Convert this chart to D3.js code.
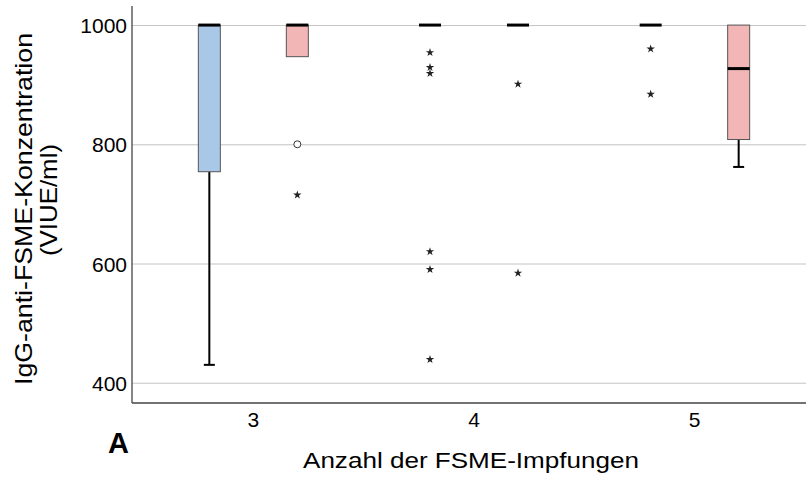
<!DOCTYPE html>
<html>
<head>
<meta charset="utf-8">
<script src="https://cdn.jsdelivr.net/npm/d3@7"></script>
<style>
  body { margin: 0; background: #fff; }
  svg text { font-family: "Liberation Sans", Arial, sans-serif; fill: #000; }
</style>
</head>
<body>
<div class="chart"></div>
<script>
// categories on the x axis
var categories = ["3", "4", "5"];
var groups = ["Gruppe 1", "Gruppe 2"];
var yTicks = [400, 600, 800, 1000];

// box statistics per group, one entry per category
var group1Min    = [430, 1000, 1000];
var group1Q1     = [754, 1000, 1000];
var group1Median = [1000, 1000, 1000];
var group1Q3     = [1000, 1000, 1000];
var group1Max    = [1000, 1000, 1000];

var group2Min    = [947, 1000, 762];
var group2Q1     = [947, 1000, 808];
var group2Median = [1000, 1000, 927];
var group2Q3     = [1000, 1000, 1000];
var group2Max    = [1000, 1000, 1000];

// outliers (circles) and extreme values (stars)
var group1Outliers = [[], [], []];
var group1Extremes = [[], [954, 929, 919, 620, 590, 439], [960, 884]];
var group2Outliers = [[800], [], []];
var group2Extremes = [[715], [901, 584], []];

var colors = ["#a9c7e7", "#f2b6b6"];

var svgWidth = 806;
var svgHeight = 481;
var plot = { left: 132, right: 806, top: 6, bottom: 403 };

var svg = d3.select(".chart")
  .append("svg")
  .attr("width", svgWidth)
  .attr("height", svgHeight);

var x = d3.scaleBand()
  .domain(categories)
  .range([143, 805]);

var xGroup = d3.scalePoint()
  .domain(groups)
  .range([-44, 44]);

var y = d3.scaleLinear()
  .domain([366, 1032])
  .range([plot.bottom, plot.top]);

// gridlines
svg.append("g")
  .attr("transform", `translate(${plot.left}, 0)`)
  .call(d3.axisLeft(y).tickValues(yTicks).tickSize(-(plot.right - plot.left)).tickFormat(""))
  .call(g => g.select(".domain").remove())
  .selectAll("line")
  .attr("stroke", "#c4c4c4")
  .attr("stroke-width", 1);

// build the per-group table
var series = [
  { name: groups[0], color: colors[0], min: group1Min, q1: group1Q1, median: group1Median, q3: group1Q3, max: group1Max, outliers: group1Outliers, extremes: group1Extremes },
  { name: groups[1], color: colors[1], min: group2Min, q1: group2Q1, median: group2Median, q3: group2Q3, max: group2Max, outliers: group2Outliers, extremes: group2Extremes }
];

var boxWidth = 22;
var capWidth = 11;

series.forEach(function(s) {
  categories.forEach(function(c, i) {
    var cx = x(c) + x.bandwidth() / 2 + xGroup(s.name);
    var g = svg.append("g");

    // lower whisker
    if (s.min[i] < s.q1[i]) {
      g.append("line")
        .attr("x1", cx).attr("x2", cx)
        .attr("y1", y(s.q1[i])).attr("y2", y(s.min[i]))
        .attr("stroke", "#000").attr("stroke-width", 2);
      g.append("line")
        .attr("x1", cx - capWidth / 2).attr("x2", cx + capWidth / 2)
        .attr("y1", y(s.min[i])).attr("y2", y(s.min[i]))
        .attr("stroke", "#000").attr("stroke-width", 2);
    }
    // upper whisker
    if (s.max[i] > s.q3[i]) {
      g.append("line")
        .attr("x1", cx).attr("x2", cx)
        .attr("y1", y(s.q3[i])).attr("y2", y(s.max[i]))
        .attr("stroke", "#000").attr("stroke-width", 2);
      g.append("line")
        .attr("x1", cx - capWidth / 2).attr("x2", cx + capWidth / 2)
        .attr("y1", y(s.max[i])).attr("y2", y(s.max[i]))
        .attr("stroke", "#000").attr("stroke-width", 2);
    }

    // box
    if (s.q3[i] > s.q1[i]) {
      g.append("rect")
        .attr("x", cx - boxWidth / 2)
        .attr("y", y(s.q3[i]))
        .attr("width", boxWidth)
        .attr("height", y(s.q1[i]) - y(s.q3[i]))
        .attr("fill", s.color)
        .attr("stroke", "#555")
        .attr("stroke-width", 1);
    }

    // median
    g.append("line")
      .attr("x1", cx - boxWidth / 2).attr("x2", cx + boxWidth / 2)
      .attr("y1", y(s.median[i])).attr("y2", y(s.median[i]))
      .attr("stroke", "#000").attr("stroke-width", 3);

    // outliers
    g.selectAll(".outlier")
      .data(s.outliers[i])
      .enter()
      .append("circle")
      .attr("cx", cx)
      .attr("cy", d => y(d))
      .attr("r", 3.5)
      .attr("fill", "#fff")
      .attr("stroke", "#333")
      .attr("stroke-width", 1);

    // extreme values
    g.selectAll(".extreme")
      .data(s.extremes[i])
      .enter()
      .append("path")
      .attr("d", d3.symbol().type(d3.symbolStar).size(22))
      .attr("transform", d => `translate(${cx}, ${y(d)})`)
      .attr("fill", "#222");
  });
});

// axes
var leftAxis = svg.append("g")
  .attr("transform", `translate(${plot.left}, 0)`)
  .call(d3.axisLeft(y).tickValues(yTicks).tickSize(0).tickPadding(5).tickFormat(d3.format("d")));
leftAxis.select(".domain").attr("d", `M0,${plot.top}V${plot.bottom}`).attr("stroke", "#444").attr("stroke-width", 1.3);
leftAxis.selectAll("text").style("font-size", "21px").attr("dy", "0.36em");

var bottomAxis = svg.append("g")
  .attr("transform", `translate(0, ${plot.bottom})`)
  .call(d3.axisBottom(x).tickSize(0).tickPadding(9));
bottomAxis.select(".domain").attr("d", `M${plot.left},0H${plot.right}`).attr("stroke", "#444").attr("stroke-width", 1.3);
bottomAxis.selectAll("text").style("font-size", "21px");

// axis titles
svg.append("text")
  .attr("transform", "translate(32, 209) rotate(-90)")
  .attr("text-anchor", "middle")
  .attr("textLength", 352)
  .attr("lengthAdjust", "spacingAndGlyphs")
  .style("font-size", "24px")
  .text("IgG-anti-FSME-Konzentration");

svg.append("text")
  .attr("transform", "translate(57, 200) rotate(-90)")
  .attr("text-anchor", "middle")
  .attr("textLength", 112)
  .attr("lengthAdjust", "spacingAndGlyphs")
  .style("font-size", "24px")
  .text("(VIUE/ml)");

svg.append("text")
  .attr("x", 471)
  .attr("y", 468)
  .attr("text-anchor", "middle")
  .attr("textLength", 336)
  .attr("lengthAdjust", "spacingAndGlyphs")
  .style("font-size", "22px")
  .text("Anzahl der FSME-Impfungen");

svg.append("text")
  .attr("x", 108)
  .attr("y", 453)
  .style("font-size", "29px")
  .style("font-weight", "bold")
  .text("A");
</script>
</body>
</html>
